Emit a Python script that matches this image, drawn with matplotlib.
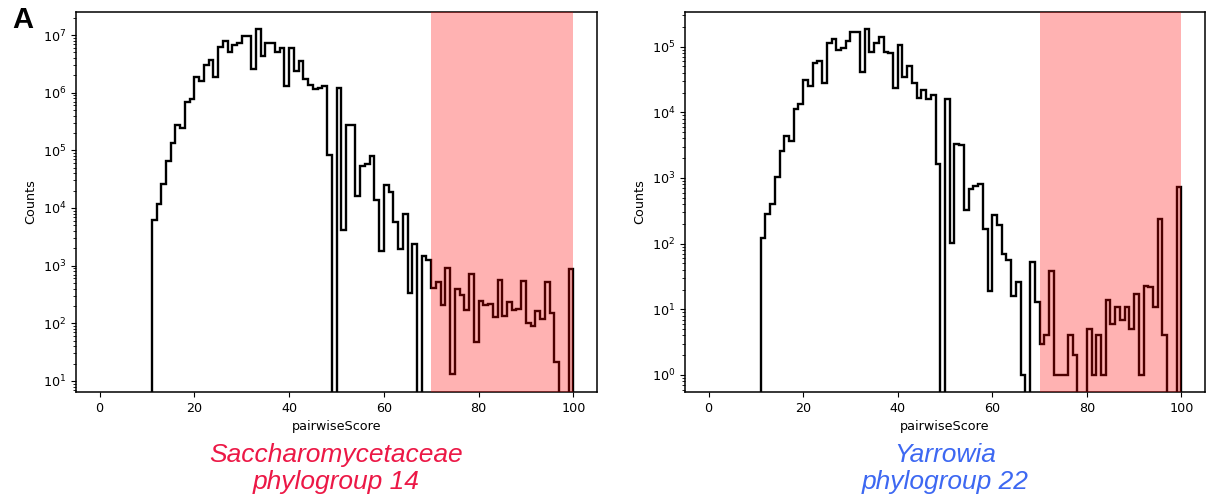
import numpy as np
import matplotlib
matplotlib.use("Agg")
import matplotlib.pyplot as plt

# ---- data: histogram counts per unit bin of pairwiseScore, bins start at 11 ----
first_bin = 11
sacch_counts = [
    6200, 11700, 25700, 64500, 132000, 270000, 240000, 680000, 790000,          # 11-19
    1850000, 1580000, 2960000, 3700000, 1850000, 6300000, 7800000, 5100000,     # 20-27
    6700000, 7200000, 9600000, 9600000, 2600000, 12700000, 4400000, 7300000,    # 28-35
    7300000, 5000000, 5900000, 1320000, 5900000, 2400000, 3550000, 1730000,     # 36-43
    1340000, 1140000, 1220000, 1320000, 83000, 0, 1200000, 4100, 270000,        # 44-52
    275000, 16300, 54000, 59000, 79000, 13800, 1780, 25000, 18600, 5800,        # 53-62
    1950, 7900, 330, 2400, 0, 1480, 1260, 405, 530, 208, 900, 13, 390, 310,     # 63-76
    170, 730, 48, 245, 208, 218, 130, 560, 135, 230, 170, 180, 545, 100, 90,    # 77-91
    162, 117, 515, 152, 21, 0, 0, 890,                                          # 92-99
]
yarrow_counts = [
    120, 280, 400, 1040, 2600, 4300, 3700, 11400, 13500,                        # 11-19
    30800, 25300, 56000, 61000, 28300, 115000, 132000, 89000,                   # 20-27
    94000, 122000, 170000, 170000, 41500, 184000, 82000, 115000,                # 28-35
    139000, 83000, 79000, 23800, 106000, 35000, 51500, 27800,                   # 36-43
    16700, 22200, 15800, 18600, 1660, 0, 15800, 104, 3300,                      # 44-52
    3150, 325, 675, 760, 810, 166, 19, 274, 192, 69,                            # 53-62
    56, 16, 26, 1, 0, 53, 13, 3, 4, 39, 1, 1, 1, 4,                             # 63-76
    2, 0, 0, 5, 1, 4, 1, 14, 6, 11, 7, 11, 5, 17, 1,                            # 77-91
    23, 22, 11, 235, 4, 0, 0, 740,                                              # 92-99
]
bin_edges = np.arange(0, 101, 1)
threshold = [70, 100]
titles = ["Saccharomycetaceae", "Yarrowia"]
subtitles = ["phylogroup 14", "phylogroup 22"]
title_colors = ["#ec1846", "#3d68f2"]
ylims = [(10**0.809, 10**7.399), (10**-0.259, 10**5.528)]

def full_counts(c):
    arr = np.zeros(len(bin_edges) - 1)
    arr[first_bin:first_bin + len(c)] = c
    return arr

W, H = 1206, 495
fig = plt.figure(figsize=(W / 100, H / 100), dpi=100)
plt.rcParams['font.size'] = 9.2

axes_px = [(76, 597), (685, 1205)]
top_px, bot_px = 12, 392
for k, (counts, (x0, x1)) in enumerate(zip([sacch_counts, yarrow_counts], axes_px)):
    ax = fig.add_axes([x0 / W, 1 - bot_px / H, (x1 - x0) / W, (bot_px - top_px) / H])
    cnt = full_counts(counts)
    ax.hist(bin_edges[:-1], bins=bin_edges, weights=cnt, histtype='step',
            color='black', linewidth=1.7, log=True)
    ax.axvspan(threshold[0], threshold[1], color='red', alpha=0.3, lw=0, zorder=3)
    ax.set_xlim(-5, 105)
    ax.set_ylim(*ylims[k])
    ax.set_xticks([0, 20, 40, 60, 80, 100])
    ax.set_xlabel("pairwiseScore", fontsize=9.2)
    ax.set_ylabel("Counts", fontsize=9.2)
    ax.tick_params(labelsize=9.2)
    for s in ax.spines.values():
        s.set_linewidth(1.1)
    cx = (x0 + x1) / 2 / W
    fig.text(cx, 1 - 462 / H, titles[k], ha='center', va='baseline',
             fontsize=19, style='italic', color=title_colors[k],
             family=['Liberation Sans', 'DejaVu Sans'])
    fig.text(cx, 1 - 488.5 / H, subtitles[k], ha='center', va='baseline',
             fontsize=19, style='italic', color=title_colors[k],
             family=['Liberation Sans', 'DejaVu Sans'])

fig.text(12 / W, 1 - 28 / H, "A", ha='left', va='baseline', fontsize=21,
         fontweight='bold', family=['Liberation Sans', 'DejaVu Sans'])

fig.savefig("out.png", dpi=100)
